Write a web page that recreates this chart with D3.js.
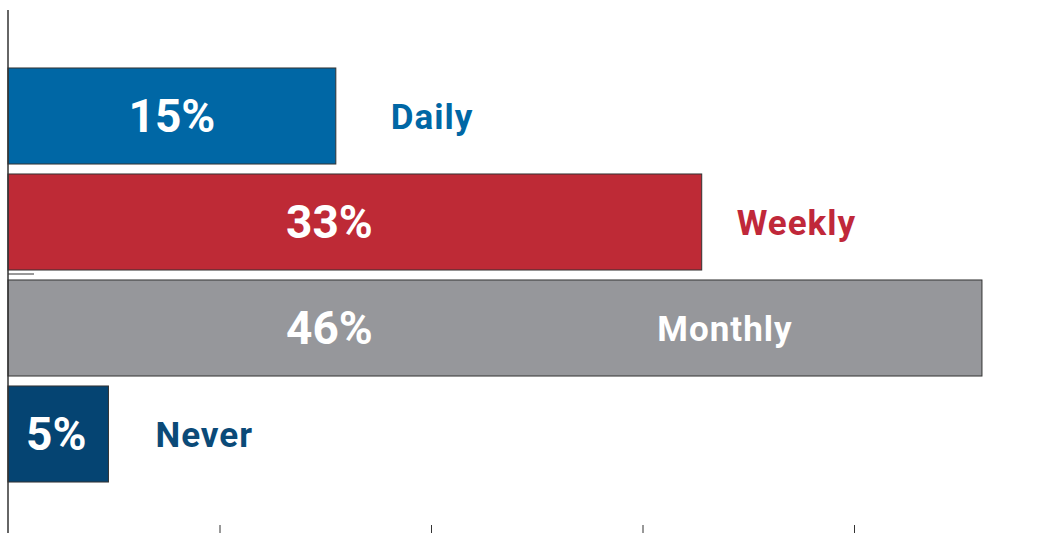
<!DOCTYPE html>
<html>
<head>
<meta charset="utf-8">
<script src="https://cdn.jsdelivr.net/npm/d3@7"></script>
<style>
  body { margin: 0; background: #fff; }
  text { font-family: Roboto, "DejaVu Sans", sans-serif; font-weight: bold; }
</style>
</head>
<body>
<script>
const categories = ["Daily", "Weekly", "Monthly", "Never"];
const values = [15.5, 32.8, 46.05, 4.75];
const valueLabels = ["15%", "33%", "46%", "5%"];
const barColors = ["#0067a5", "#be2a36", "#96979b", "#054472"];
const textColors = ["#0067a5", "#c0283a", "#ffffff", "#0b4a78"];
const tickValues = [10, 20, 30, 40];

const chart = {
    width: 1057,
    height: 533,
    left: 8,
    top: 63,
    bandStep: 106
}
// gap (px) between bar end and its name; null = name sits inside the bar
const labelGap = [55, 35, null, 47];

let svg = d3.select("body")
    .append("svg")
    .attr("width", chart.width)
    .attr("height", chart.height);

let x = d3.scaleLinear()
    .domain([0, 50])
    .range([chart.left, chart.left + 50 * 21.15]);

let y = d3.scaleBand()
    .domain(categories)
    .range([chart.top, chart.top + chart.bandStep * categories.length])
    .paddingInner(0.094)
    .paddingOuter(0.047);

// bars
svg.selectAll("rect.bar")
    .data(categories)
    .enter()
    .append("rect")
    .attr("class", "bar")
    .attr("x", x(0))
    .attr("y", d => y(d))
    .attr("width", (d, i) => x(values[i]) - x(0))
    .attr("height", y.bandwidth())
    .attr("fill", (d, i) => barColors[i])
    .attr("stroke", "#333")
    .attr("stroke-width", 1);

// percent labels inside the bars
svg.selectAll("text.pct")
    .data(categories)
    .enter()
    .append("text")
    .attr("class", "pct")
    .attr("x", (d, i) => x(Math.min(values[i] / 2, 15.2)) - (values[i] < 10 ? 2 : 0))
    .attr("y", d => y(d) + y.bandwidth() / 2 + 16)
    .attr("text-anchor", "middle")
    .attr("fill", "#fff")
    .style("font-size", "46px")
    .text((d, i) => valueLabels[i]);

// category labels: after the bar, or inside it for the long one
svg.selectAll("text.cat")
    .data(categories)
    .enter()
    .append("text")
    .attr("class", "cat")
    .attr("x", (d, i) => labelGap[i] === null ? x(30.7) : x(values[i]) + labelGap[i])
    .attr("y", d => y(d) + y.bandwidth() / 2 + 12.5)
    .attr("fill", (d, i) => textColors[i])
    .style("font-size", "35px")
    .style("letter-spacing", "1px")
    .text(d => d);

// axes
svg.append("line")
    .attr("x1", x(0)).attr("x2", x(0))
    .attr("y1", 10).attr("y2", chart.height)
    .attr("stroke", "#333")
    .attr("stroke-width", 1.5);

svg.append("line")
    .attr("x1", x(0)).attr("x2", x(0) + 26)
    .attr("y1", 274).attr("y2", 274)
    .attr("stroke", "#333")
    .attr("stroke-width", 1);

let xAxis = d3.axisBottom(x)
    .tickValues(tickValues)
    .tickSize(8)
    .tickFormat("");

svg.append("g")
    .attr("transform", `translate(0, ${chart.height - 8})`)
    .call(xAxis)
    .call(g => g.select(".domain").remove())
    .call(g => g.selectAll("line").attr("stroke", "#333"));
</script>
</body>
</html>
